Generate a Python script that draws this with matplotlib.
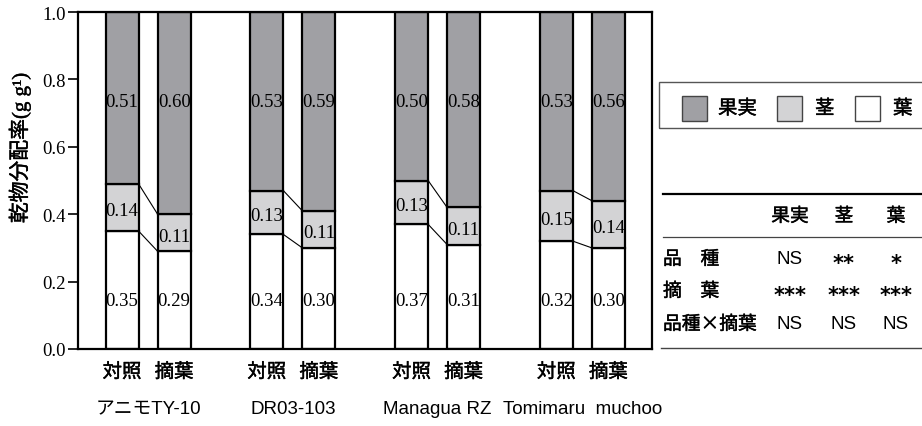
import matplotlib
matplotlib.use("Agg")
import matplotlib.pyplot as plt
import matplotlib.patheffects as pe
from matplotlib.patches import Rectangle
from matplotlib.lines import Line2D
import numpy as np

# data
varieties = ["アニモTY-10", "DR03-103", "Managua RZ", "Tomimaru  muchoo"]
treatments = ["対照", "摘葉"]
leaf = [0.35, 0.29, 0.34, 0.30, 0.37, 0.31, 0.32, 0.30]
stem = [0.14, 0.11, 0.13, 0.11, 0.13, 0.11, 0.15, 0.14]
fruit = [0.51, 0.60, 0.53, 0.59, 0.50, 0.58, 0.53, 0.56]
parts = ["果実", "茎", "葉"]
colors = ["#a0a0a4", "#d3d3d5", "#ffffff"]
effects = ["品\u3000種", "摘\u3000葉", "品種×摘葉"]
signif = [["NS", "**", "*"],
          ["***", "***", "***"],
          ["NS", "NS", "NS"]]

W, H = 922, 427
CJK = ["Noto Sans CJK JP", "DejaVu Sans"]
LATIN = ["Liberation Sans", "Noto Sans CJK JP"]
SERIF = ["Liberation Serif", "Noto Sans CJK JP"]
# a slightly heavier stroke for the gothic labels
MED = [pe.withStroke(linewidth=0.3, foreground="black")]

fig = plt.figure(figsize=(W / 100, H / 100), dpi=100)


def px(x, y):
    return x / W, 1 - y / H


ax = fig.add_axes([78 / W, 1 - 350 / H, (652 - 78) / W, (350 - 13) / H])

gap = 2.78
bw = 0.635
xpos = []
for g in range(len(varieties)):
    xpos += [g * gap, g * gap + 1]
xpos = np.array(xpos)

leaf_a = np.array(leaf)
stem_a = np.array(stem)
fruit_a = np.array(fruit)

ax.bar(xpos, leaf_a, bw, color=colors[2], edgecolor="black", lw=1.6, zorder=2)
ax.bar(xpos, stem_a, bw, bottom=leaf_a, color=colors[1], edgecolor="black", lw=1.6, zorder=2)
ax.bar(xpos, fruit_a, bw, bottom=leaf_a + stem_a, color=colors[0], edgecolor="black", lw=1.6, zorder=2)

# value labels
for i, x in enumerate(xpos):
    ax.text(x, 0.143, f"{leaf[i]:.2f}", ha="center", va="center", fontsize=13.5, family=SERIF, zorder=3)
    ax.text(x, leaf[i] + stem[i] / 2 - 0.01, f"{stem[i]:.2f}", ha="center", va="center",
            fontsize=13.5, family=SERIF, zorder=3)
    ax.text(x, 0.735, f"{fruit[i]:.2f}", ha="center", va="center", fontsize=13.5, family=SERIF, zorder=3)

# lines joining the segment boundaries of the two bars in a group
for g in range(len(varieties)):
    a, b = 2 * g, 2 * g + 1
    for ya, yb in [(leaf[a], leaf[b]), (leaf[a] + stem[a], leaf[b] + stem[b])]:
        ax.plot([xpos[a] + bw / 2, xpos[b] - bw / 2], [ya, yb], color="black", lw=0.8, zorder=1)

ax.set_xlim(-0.846, xpos[-1] + 0.837)
ax.set_ylim(0, 1.0)
ax.set_yticks(np.arange(0, 1.01, 0.2))
ax.set_yticklabels([f"{v:.1f}" for v in np.arange(0, 1.01, 0.2)], family=SERIF, fontsize=13.5)
ax.tick_params(axis="y", direction="out", length=7, width=1.2, pad=2)
ax.set_xticks(xpos)
ax.set_xticklabels(treatments * len(varieties), family=CJK, fontsize=14)
for t in ax.get_xticklabels():
    t.set_path_effects(MED)
ax.tick_params(axis="x", length=0, pad=9)
for s in ax.spines.values():
    s.set_linewidth(1.6)

for g, name in enumerate(varieties):
    xc = g * gap + 0.5
    ax.text(xc, -0.178, name, ha="center", va="center", fontsize=13.5,
            family=LATIN, transform=ax.transData, clip_on=False)

fig.text(*px(20, 149), "乾物分配率(g g¹)", rotation=90, ha="center", va="center",
         fontsize=15, family=SERIF, path_effects=MED)

# legend box
fig.patches.append(Rectangle(px(659, 129), (990 - 659) / W, 46 / H, transform=fig.transFigure,
                             fill=False, edgecolor="#555555", lw=1.0))
for (x0, xt), name, c in zip([(682, 718), (777, 815), (855, 893)], parts, colors):
    fig.patches.append(Rectangle(px(x0, 122), 25 / W, 25 / H, transform=fig.transFigure,
                                 facecolor=c, edgecolor="#444444", lw=1.0))
    fig.text(*px(xt, 109.5), name, ha="left", va="center", fontsize=14, family=CJK, path_effects=MED)

# significance table
fig.lines.append(Line2D([663 / W, 1], [1 - 195 / H] * 2, transform=fig.transFigure, color="black", lw=1.6))
fig.lines.append(Line2D([663 / W, 1], [1 - 238 / H] * 2, transform=fig.transFigure, color="#444444", lw=0.9))
fig.lines.append(Line2D([661 / W, 1], [1 - 349 / H] * 2, transform=fig.transFigure, color="#444444", lw=1.0))
col_x = [790, 844, 896]
for cx, name in zip(col_x, parts):
    fig.text(*px(cx, 217), name, ha="center", va="center", fontsize=13.5, family=CJK, path_effects=MED)
for ry, eff, row in zip([260, 292, 325], effects, signif):
    fig.text(*px(663, ry), eff, ha="left", va="center", fontsize=13.5, family=CJK, path_effects=MED)
    for cx, s in zip(col_x, row):
        if s.startswith("*"):
            fig.text(*px(cx, ry + 4), s, ha="center", va="center", fontsize=15,
                     family="DejaVu Sans", weight="bold")
        else:
            fig.text(*px(cx, ry), s, ha="center", va="center", fontsize=13.5, family=LATIN)

fig.savefig("out.png", dpi=100, facecolor="white")
